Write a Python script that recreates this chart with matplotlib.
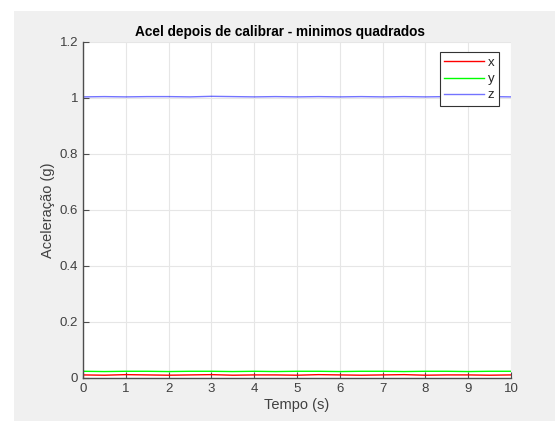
import matplotlib
matplotlib.use("Agg")
import matplotlib.pyplot as plt
from matplotlib.patches import Rectangle

plt.rcParams["font.family"] = ["Liberation Sans", "DejaVu Sans"]

# time samples (s) and accel readings (g)
tempo = [0, 0.5, 1, 1.5, 2, 2.5, 3, 3.5, 4, 4.5, 5, 5.5, 6, 6.5, 7, 7.5, 8, 8.5, 9, 9.5, 10]
acel_x = [0.011, 0.010, 0.012, 0.011, 0.010, 0.011, 0.012, 0.010, 0.011, 0.011, 0.010,
          0.012, 0.011, 0.010, 0.011, 0.012, 0.010, 0.011, 0.011, 0.010, 0.011]
acel_y = [0.024, 0.023, 0.024, 0.024, 0.023, 0.024, 0.024, 0.023, 0.024, 0.023, 0.024,
          0.024, 0.023, 0.024, 0.024, 0.023, 0.024, 0.024, 0.023, 0.024, 0.024]
acel_z = [1.004, 1.005, 1.004, 1.005, 1.005, 1.004, 1.006, 1.005, 1.004, 1.005, 1.004,
          1.005, 1.004, 1.005, 1.004, 1.005, 1.004, 1.005, 1.004, 1.005, 1.004]

xticks = list(range(0, 11))
yticks = [0, 0.2, 0.4, 0.6, 0.8, 1, 1.2]

fig = plt.figure(figsize=(5.55, 4.21), dpi=100, facecolor="white")
# MATLAB-ish gray window area (white strip at left and top)
fig.patches.append(Rectangle((14 / 555, 0), 1, 1 - 11 / 421, transform=fig.transFigure,
                             facecolor="#f0f0f0", edgecolor="none", zorder=-1))

ax = fig.add_axes([83 / 555, 1 - 378 / 421, 428 / 555, 336 / 421])
ax.plot(tempo, acel_x, color="#ff0000", lw=1, label="x")
ax.plot(tempo, acel_y, color="#00ff00", lw=1, label="y")
ax.plot(tempo, acel_z, color="#0000ff", lw=1, alpha=0.55, label="z")

ax.set_xlim(0, 10)
ax.set_ylim(0, 1.2)
ax.set_xticks(xticks)
ax.set_yticks(yticks)
ax.set_yticklabels(["0", "0.2", "0.4", "0.6", "0.8", "1", "1.2"])
ax.grid(True, color="#e6e6e6", lw=0.8)
ax.set_axisbelow(True)

for s in ["top", "right"]:
    ax.spines[s].set_visible(False)
for s in ["left", "bottom"]:
    ax.spines[s].set_color("#4d4d4d")
    ax.spines[s].set_linewidth(1)
ax.tick_params(direction="in", length=4, colors="#4d4d4d", labelcolor="#404040",
               labelsize=9.5, width=0.8)

ax.set_title("Acel depois de calibrar - minimos quadrados", fontsize=9.8,
             fontweight="bold", color="black", pad=4, x=0.46)
ax.set_xlabel("Tempo (s)", fontsize=10.5, color="#404040", labelpad=2)
ax.set_ylabel("Aceleração (g)", fontsize=10.5, color="#404040", labelpad=3)

leg = ax.legend(loc="upper right", bbox_to_anchor=(0.972, 0.970), borderaxespad=0,
                fontsize=9.5, handlelength=3.0, handletextpad=0.3,
                borderpad=0.35, labelspacing=0.3, fancybox=False, framealpha=1)
leg.get_frame().set_edgecolor("#333333")
leg.get_frame().set_linewidth(0.8)
for t in leg.get_texts():
    t.set_color("#262626")

fig.savefig("out.png", dpi=100, facecolor=fig.get_facecolor())
